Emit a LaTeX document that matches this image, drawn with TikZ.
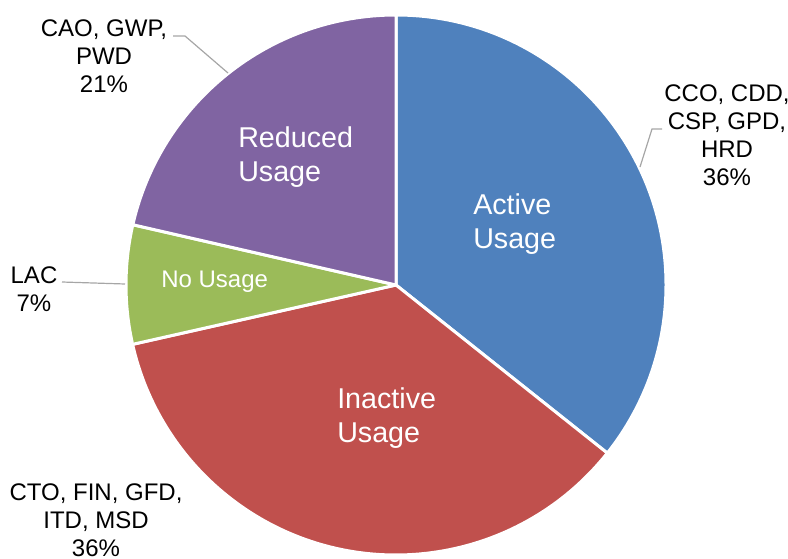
\documentclass[tikz,border=0pt]{standalone}
\usepackage{fontspec}
\setmainfont{Liberation Sans}
\usetikzlibrary{positioning}
\definecolor{actblue}{HTML}{4F81BD}
\definecolor{inactred}{HTML}{C0504D}
\definecolor{nogreen}{HTML}{9BBB59}
\definecolor{redpurple}{HTML}{8064A2}
\definecolor{leadgray}{HTML}{A6A6A6}

\begin{document}
\begin{tikzpicture}[x=0.75pt,y=0.75pt,
  slice/.style={draw=white, line width=2.25pt, line join=round},
  inlabel/.style={text=white, align=left, anchor=west, inner sep=0pt,
    font=\fontsize{21.5}{25.5}\selectfont},
  outlabel/.style={align=center, inner sep=0pt,
    font=\fontsize{18}{21}\selectfont},
  leader/.style={draw=leadgray, line width=0.9pt}]
\useasboundingbox (0,0) rectangle (788,558);

% slices
\coordinate (mid) at (396,273);
\foreach \a/\b/\c in {90/-38.5/actblue, -38.5/-167.3/inactred,
    -167.3/-192.9/nogreen, -192.9/-270/redpurple}
\filldraw[slice, fill=\c] (mid) -- ++(\a:270)
    arc[start angle=\a, end angle=\b, radius=270] -- cycle;

% labels inside
\node[inlabel] (act) at (473,333.5) {Active\\Usage};
\node[inlabel] (inact) at (337,139.5) {Inactive\\Usage};
\node[inlabel] (red) at (238,400.5) {Reduced\\Usage};
\node[inlabel, font=\fontsize{18}{21}\selectfont] (nouse) at (161,276) {No Usage};

% labels outside
\node[outlabel] (actlbl) at (727,423) {CCO, CDD,\\CSP, GPD,\\HRD\\36\%};
\node[outlabel] (inactlbl) at (96,38) {CTO, FIN, GFD,\\ITD, MSD\\36\%};
\node[outlabel] (redlbl) at (104,502) {CAO, GWP,\\PWD\\21\%};
\node[outlabel] (nolbl) at (34,269) {LAC\\7\%};

% leader lines
\coordinate (actA) at (662,429);
\coordinate (actB) at (640,391);
\coordinate (redA) at (173,522);
\coordinate (redB) at (228,485);
\coordinate (noA) at (62,276);
\coordinate (noB) at (125,274);
\draw[leader] (actA) -- ++(-10,0) -- (actB);
\draw[leader] (redA) -- ++(12,0) -- (redB);
\draw[leader] (noA) -- (noB);
\end{tikzpicture}
\end{document}
